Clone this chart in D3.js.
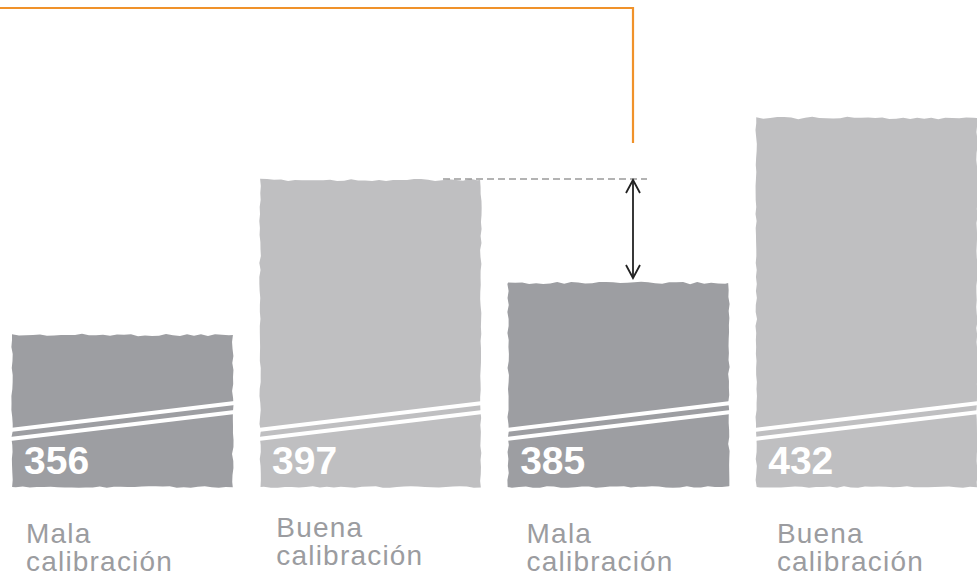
<!DOCTYPE html>
<html><head><meta charset="utf-8">
<script src="https://cdn.jsdelivr.net/npm/d3@7"></script>
<style>body{margin:0;background:#fff}svg{display:block}</style>
</head><body>
<script>
// ---- data ----
const labelLine1 = ["Mala", "Buena", "Mala", "Buena"];
const labelLine2 = ["calibración", "calibración", "calibración", "calibración"];
const values = [356, 397, 385, 432];
const quality = ["mala", "buena", "mala", "buena"];
const ids = ["a", "b", "c", "d"];
// the original chart is not drawn to scale: piecewise value knots
const yKnots = [356, 385, 397, 432];

// ---- layout / style ----
const W = 977, H = 577;
const baseY = 487;
const colors = { mala: "#9d9ea2", buena: "#bfbfc1" };
const labelColor = "#9b9ca0";
const labelRaise = [0, 6, 0, 0];

const svg = d3.select("body").append("svg").attr("width", W).attr("height", H);

const x = d3.scaleBand().domain(ids).range([12, 977]).paddingInner(0.11).paddingOuter(0);
const xLab = d3.scaleBand().domain(ids).range([26, 26 + 4 * 250.3]).padding(0);
const y = d3.scaleLinear().domain(yKnots).range([335, 283, 180, 118]);

// deterministic jitter for the hand-torn edges (styling only)
function jit(i, s) { const v = Math.sin(i * 12.9898 + s * 78.233) * 43758.5453; return v - Math.floor(v) - 0.5; }
function roughRect(x0, y0, x1, y1, s) {
  const pts = [];
  const step = 7;
  for (let xx = x0, i = 0; xx < x1; xx += step, i++) pts.push([xx, y0 + jit(i, s) * 2.4]);
  for (let yy = y0, i = 0; yy < y1; yy += step, i++) pts.push([x1 + jit(i + 100, s) * 1.6, yy]);
  for (let xx = x1, i = 0; xx > x0; xx -= step, i++) pts.push([xx, y1 + jit(i + 200, s) * 1.6]);
  for (let yy = y1, i = 0; yy > y0; yy -= step, i++) pts.push([x0 + jit(i + 300, s) * 1.6, yy]);
  return d3.line()(pts) + "Z";
}

const g = svg.append("g");
const bars = g.selectAll("g.bar").data(values).join("g").attr("class", "bar");

bars.append("path")
  .attr("d", (d, i) => roughRect(x(ids[i]), y(d), x(ids[i]) + x.bandwidth(), baseY, i + 1))
  .attr("fill", (d, i) => colors[quality[i]]);

// axis-break double white lines
bars.each(function (d, i) {
  const x0 = x(ids[i]) - 2, x1 = x(ids[i]) + x.bandwidth() + 2;
  const sel = d3.select(this);
  [0, 9].forEach(off => {
    sel.append("line")
      .attr("x1", x0).attr("y1", 430 + off)
      .attr("x2", x1).attr("y2", 403 + off)
      .attr("stroke", "#fff").attr("stroke-width", 4);
  });
});

// value labels
bars.append("text")
  .attr("x", (d, i) => x(ids[i]) + 12)
  .attr("y", 474)
  .attr("fill", "#fff")
  .attr("font-family", "'Liberation Sans', Arial, sans-serif")
  .attr("font-weight", "bold")
  .attr("font-size", 39)
  .text(d => d);

// category labels
bars.each(function (d, i) {
  const lx = xLab(ids[i]);
  const t = d3.select(this).append("text")
    .attr("x", lx)
    .attr("y", 543 - labelRaise[i])
    .attr("fill", labelColor)
    .attr("font-family", "'Liberation Sans', Arial, sans-serif")
    .attr("font-size", 28)
    .attr("letter-spacing", 1.2);
  t.append("tspan").attr("x", lx).text(labelLine1[i]);
  t.append("tspan").attr("x", lx).attr("dy", 28).text(labelLine2[i]);
});

// annotation: dashed reference line, arrow, orange bracket
const ax = 633;
const yHi = y(values[1]), yLo = y(values[2]);
svg.append("line")
  .attr("x1", 443).attr("x2", 647).attr("y1", yHi - 1).attr("y2", yHi - 1)
  .attr("stroke", "#9a9a9a").attr("stroke-width", 1.6).attr("stroke-dasharray", "7,4");

svg.append("line")
  .attr("x1", ax).attr("x2", ax).attr("y1", yHi).attr("y2", yLo - 5)
  .attr("stroke", "#222").attr("stroke-width", 1.8);
svg.append("path")
  .attr("d", `M${ax - 7},${yHi + 13}L${ax},${yHi}L${ax + 7},${yHi + 13}M${ax - 7},${yLo - 18}L${ax},${yLo - 5}L${ax + 7},${yLo - 18}`)
  .attr("fill", "none").attr("stroke", "#222").attr("stroke-width", 1.8);

svg.append("path")
  .attr("d", `M0,8H${ax}V143`)
  .attr("fill", "none").attr("stroke", "#f0922a").attr("stroke-width", 2.2);
</script>
</body></html>
